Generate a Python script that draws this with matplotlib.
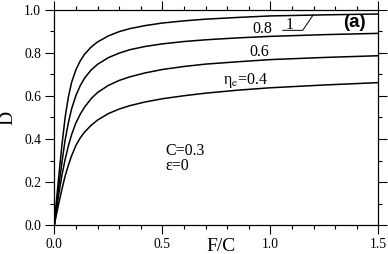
import matplotlib
matplotlib.use("Agg")
import matplotlib.pyplot as plt
from matplotlib.ticker import MultipleLocator

# Values
F_over_C = [0.0, 0.01, 0.02, 0.035, 0.05, 0.065, 0.08, 0.10, 0.12, 0.14, 0.17, 0.20,
            0.25, 0.30, 0.35, 0.42, 0.50, 0.60, 0.70, 0.85, 1.00, 1.25, 1.50]
D_eta_1_0 = [0.0, 0.115, 0.22, 0.37, 0.50, 0.595, 0.663, 0.722, 0.763, 0.794, 0.827, 0.851,
             0.879, 0.899, 0.913, 0.927, 0.939, 0.949, 0.957, 0.965, 0.972, 0.977, 0.981]
D_eta_0_8 = [0.0, 0.09, 0.175, 0.29, 0.395, 0.475, 0.54, 0.602, 0.648, 0.683, 0.72, 0.747,
             0.778, 0.799, 0.815, 0.83, 0.842, 0.853, 0.861, 0.87, 0.877, 0.885, 0.891]
D_eta_0_6 = [0.0, 0.072, 0.14, 0.23, 0.305, 0.368, 0.42, 0.475, 0.515, 0.548, 0.587, 0.616,
             0.649, 0.672, 0.689, 0.707, 0.723, 0.737, 0.748, 0.759, 0.769, 0.779, 0.787]
D_eta_0_4 = [0.0, 0.05, 0.098, 0.165, 0.228, 0.278, 0.322, 0.37, 0.405, 0.432, 0.463, 0.488,
             0.518, 0.539, 0.555, 0.572, 0.587, 0.601, 0.613, 0.627, 0.638, 0.651, 0.662]

curves = [D_eta_1_0, D_eta_0_8, D_eta_0_6, D_eta_0_4]

plt.rcParams['font.family'] = ['Liberation Serif', 'DejaVu Serif']
plt.rcParams['mathtext.fontset'] = 'stix'

fig = plt.figure(figsize=(3.88, 2.54), dpi=100)
ax = fig.add_axes([0.140, 0.114, 0.835, 0.847])

for d in curves:
    ax.plot(F_over_C, d, color='black', lw=1.1)

ax.set_xlim(0, 1.5)
ax.set_ylim(0, 1.0)
ax.xaxis.set_major_locator(MultipleLocator(0.5))
ax.xaxis.set_minor_locator(MultipleLocator(0.1))
ax.yaxis.set_major_locator(MultipleLocator(0.2))
ax.yaxis.set_minor_locator(MultipleLocator(0.1))
ax.xaxis.set_major_formatter(plt.FormatStrFormatter('%.1f'))
ax.yaxis.set_major_formatter(plt.FormatStrFormatter('%.1f'))
ax.tick_params(which='both', direction='out', top=True, right=True,
               labeltop=False, labelright=False, width=0.8, labelsize=9.8)
ax.tick_params(which='major', length=6.5, pad=3.0)
ax.tick_params(which='minor', length=3.2)
for s in ax.spines.values():
    s.set_linewidth(0.9)

ax.set_xlabel('F/C', fontsize=14)
ax.xaxis.set_label_coords(0.513, -0.060)
ax.set_ylabel('D', fontsize=14)
ax.yaxis.label.set_va('center')
ax.yaxis.set_label_coords(-0.143, 0.5)

ax.text(0.962, 0.912, '0.8', fontsize=11.5, ha='center', va='center')
ax.text(0.950, 0.805, '0.6', fontsize=11.5, ha='center', va='center')
ax.text(0.883, 0.674, r'η$_{\mathrm{e}}$=0.4', fontsize=11.5, ha='center', va='center')
ax.text(1.09, 0.93, '1', fontsize=11.5, ha='center', va='center')
ax.plot([1.09 - 0.032, 1.15, 1.198], [0.905, 0.905, 0.976], color='black', lw=0.7)
ax.text(0.513, 0.344, 'C=0.3', fontsize=11.5, ha='left', va='center')
ax.text(0.513, 0.274, 'ε=0', fontsize=11.5, ha='left', va='center')
ax.text(1.39, 0.94, '(a)', fontsize=13.5, fontweight='bold', family='Liberation Sans',
        ha='center', va='center')

fig.savefig('out.png', dpi=100)
